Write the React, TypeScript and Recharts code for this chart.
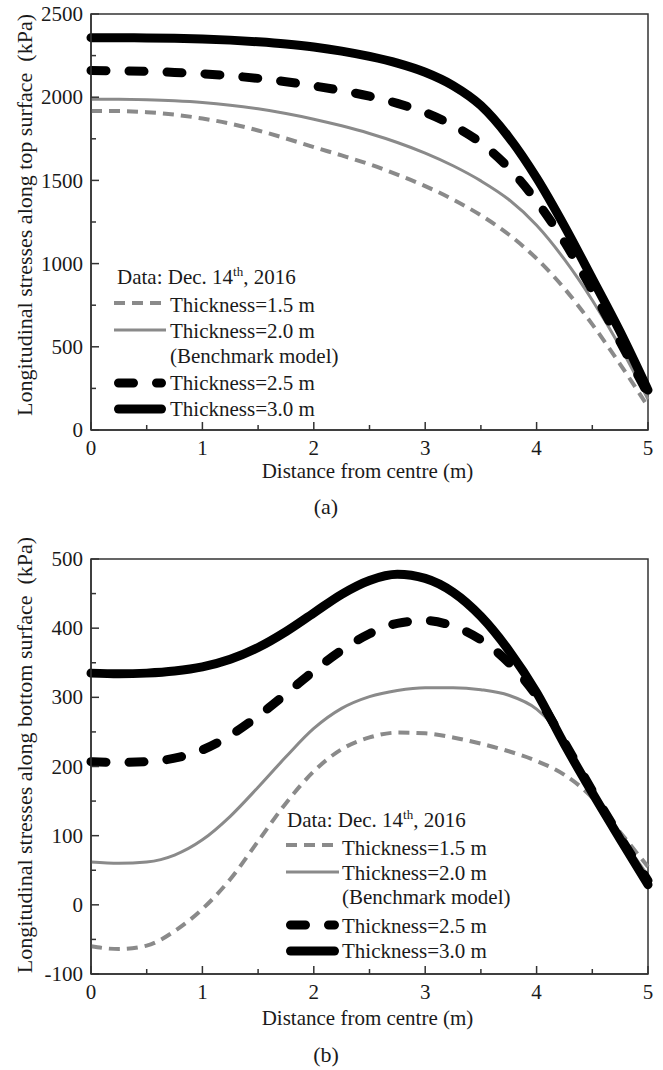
import React from 'react';
import { LineChart, Line, XAxis, YAxis, ReferenceArea, Legend, Label } from 'recharts';

const FONT = '"Liberation Serif", "Times New Roman", Times, serif';
const AXIS = '#333';
const TXT = '#1a1a1a';
const GRAY = '#8a8a8a';

// distance from centre (m)
const distances = [0, 0.25, 0.5, 0.75, 1, 1.25, 1.5, 1.75, 2, 2.25, 2.5, 2.75, 3, 3.25, 3.5, 3.75, 4, 4.25, 4.5, 4.75, 5];

// (a) top surface (kPa)
const top15 = [1917, 1917, 1910, 1895, 1872, 1841, 1800, 1752, 1700, 1650, 1597, 1535, 1466, 1385, 1290, 1175, 1030, 850, 635, 395, 140];
const top20 = [1987, 1987, 1984, 1978, 1968, 1952, 1930, 1902, 1868, 1828, 1782, 1728, 1664, 1588, 1497, 1385, 1230, 1025, 780, 500, 185];
const top25 = [2160, 2158, 2155, 2149, 2141, 2129, 2113, 2093, 2068, 2040, 2006, 1963, 1908, 1830, 1725, 1575, 1375, 1130, 840, 530, 215];
const top30 = [2358, 2357, 2356, 2354, 2350, 2343, 2333, 2320, 2302, 2277, 2245, 2205, 2150, 2070, 1950, 1760, 1515, 1225, 910, 590, 240];

// (b) bottom surface (kPa)
const bot15 = [-60, -64, -59, -38, -6, 37, 92, 147, 193, 225, 242, 249, 248, 242, 233, 222, 208, 188, 155, 105, 55];
const bot20 = [62, 60, 62, 72, 94, 128, 170, 214, 255, 284, 301, 310, 314, 314, 311, 303, 283, 238, 165, 100, 42];
const bot25 = [207, 206, 207, 212, 224, 245, 273, 305, 338, 368, 392, 407, 411, 403, 383, 350, 302, 235, 165, 98, 35];
const bot30 = [335, 334, 335, 338, 344, 355, 372, 395, 422, 449, 469, 478, 472, 452, 417, 368, 307, 232, 162, 95, 29];

const xTicks = [0, 0.5, 1, 1.5, 2, 2.5, 3, 3.5, 4, 4.5, 5];
const yTicksTop = [0, 250, 500, 750, 1000, 1250, 1500, 1750, 2000, 2250, 2500];
const yTicksBot = [-100, -50, 0, 50, 100, 150, 200, 250, 300, 350, 400, 450, 500];

const seriesNames = ['Thickness=1.5 m', 'Thickness=2.0 m', 'Thickness=2.5 m', 'Thickness=3.0 m'];

const styles = [
  { key: 's15', color: GRAY, width: 4, dash: '11 7', cap: 'butt' },
  { key: 's20', color: GRAY, width: 3, dash: undefined, cap: 'butt' },
  { key: 's25', color: '#000', width: 9, dash: '15 23', cap: 'round' },
  { key: 's30', color: '#000', width: 9, dash: undefined, cap: 'round' },
];

const topData = distances.map((d, i) => ({ d, s15: top15[i], s20: top20[i], s25: top25[i], s30: top30[i] }));
const botData = distances.map((d, i) => ({ d, s15: bot15[i], s20: bot20[i], s25: bot25[i], s30: bot30[i] }));

const XTick = (props: any) => {
  const { x, y, payload } = props;
  const v = payload.value;
  const major = Math.abs(v - Math.round(v)) < 1e-6;
  return (
    <g>
      <line x1={x} x2={x} y1={y} y2={y - (major ? 8 : 5)} stroke={AXIS} strokeWidth={1.5} />
      {major && (
        <text x={x} y={y + 25} textAnchor="middle" fontSize={21} fontFamily={FONT} fill={TXT}>
          {v}
        </text>
      )}
    </g>
  );
};

const makeYTick = (step: number) => (props: any) => {
  const { x, y, payload } = props;
  const v = payload.value;
  const major = v % step === 0;
  return (
    <g>
      <line x1={x} x2={x + (major ? 8 : 5)} y1={y} y2={y} stroke={AXIS} strokeWidth={1.5} />
      {major && (
        <text x={x - 8} y={y} dy="0.34em" textAnchor="end" fontSize={21} fontFamily={FONT} fill={TXT}>
          {v}
        </text>
      )}
    </g>
  );
};

const yTitle = (text: string, cy: number) => (props: any) => {
  return (
    <text
      x={32}
      y={cy}
      transform={`rotate(-90, 32, ${cy})`}
      textAnchor="middle"
      fontSize={22}
      fontFamily={FONT}
      fill={TXT}
      style={{ whiteSpace: 'pre' }}
    >
      {text}
    </text>
  );
};

const xTitle = (baseline: number) => (props: any) => {
  const vb = props.viewBox || {};
  const cx = (vb.x || 0) + (vb.width || 0) / 2;
  return (
    <text x={cx - 2} y={baseline} textAnchor="middle" fontSize={21} fontFamily={FONT} fill={TXT}>
      Distance from centre (m)
    </text>
  );
};

type LegendGeo = { lx: number; lw: number; tx: number; titleX: number; titleY: number; lineYs: number[]; textYs: number[]; benchY: number };

const LegendBox = ({ g, w, h }: { g: LegendGeo; w: number; h: number }) => (
  <svg width={w} height={h} style={{ position: 'absolute', left: 0, top: 0, overflow: 'visible' }}>
    <text x={g.titleX} y={g.titleY} fontSize={21} fontFamily={FONT} fill={TXT}>
      Data: Dec. 14<tspan dy={-8} fontSize={13}>th</tspan>
      <tspan dy={8}>, 2016</tspan>
    </text>
    {styles.map((s, i) => {
      const inset = s.cap === 'round' ? s.width / 2 : 0;
      return (
        <g key={s.key}>
          <line
            x1={g.lx + inset}
            x2={g.lx + g.lw - inset}
            y1={g.lineYs[i]}
            y2={g.lineYs[i]}
            stroke={s.color}
            strokeWidth={s.width}
            strokeDasharray={s.dash}
            strokeLinecap={s.cap as any}
          />
          <text x={g.tx} y={g.textYs[i]} fontSize={21} fontFamily={FONT} fill={TXT}>
            {seriesNames[i]}
          </text>
        </g>
      );
    })}
    <text x={g.tx} y={g.benchY} fontSize={21} fontFamily={FONT} fill={TXT}>
      (Benchmark model)
    </text>
  </svg>
);

const topLegend: LegendGeo = {
  lx: 114, lw: 52, tx: 170, titleX: 117, titleY: 284,
  lineYs: [303, 330, 383, 409], textYs: [312, 338, 390, 416], benchY: 363,
};
const botLegend: LegendGeo = {
  lx: 286, lw: 53, tx: 342, titleX: 287, titleY: 327,
  lineYs: [345, 372, 425, 451], textYs: [355, 380, 433, 458], benchY: 404,
};

const renderLines = () =>
  styles.map((s, i) => (
    <Line
      key={s.key}
      dataKey={s.key}
      name={seriesNames[i]}
      type="monotone"
      stroke={s.color}
      strokeWidth={s.width}
      strokeDasharray={s.dash}
      strokeLinecap={s.cap as any}
      dot={false}
      activeDot={false}
      isAnimationActive={false}
    />
  ));

const Caption = ({ text, top }: { text: string; top: number }) => (
  <svg width={663} height={40} style={{ position: 'absolute', left: 0, top }}>
    <text x={326} y={28} textAnchor="middle" fontSize={22} fontFamily={FONT} fill={TXT}>
      {text}
    </text>
  </svg>
);

export default function App() {
  return (
    <div style={{ position: 'absolute', left: 0, top: 0, width: 663, height: 1070, background: '#fff', fontFamily: FONT }}>
      <div style={{ position: 'absolute', left: 0, top: 0 }}>
        <LineChart width={663} height={500} data={topData} margin={{ top: 14, right: 15, bottom: 0, left: 0 }}>
          <XAxis
            dataKey="d"
            type="number"
            domain={[0, 5]}
            ticks={xTicks}
            interval={0}
            height={70}
            tickSize={0}
            tickMargin={0}
            tickLine={false}
            axisLine={{ stroke: AXIS, strokeWidth: 1.5 }}
            tick={XTick}
          >
            <Label content={xTitle(478)} />
          </XAxis>
          <YAxis
            type="number"
            domain={[0, 2500]}
            ticks={yTicksTop}
            interval={0}
            width={91}
            tickSize={0}
            tickMargin={0}
            tickLine={false}
            axisLine={{ stroke: AXIS, strokeWidth: 1.5 }}
            tick={makeYTick(500)}
          >
            <Label content={yTitle('Longitudinal stresses along top surface  (kPa)', 215)} />
          </YAxis>
          <ReferenceArea x1={0} x2={5} y1={0} y2={2500} fill="none" stroke={AXIS} strokeWidth={1.5} ifOverflow="visible" />
          {renderLines()}
          <Legend
            layout="vertical"
            align="center"
            verticalAlign="middle"
            wrapperStyle={{ left: 0, top: 0, width: 663, height: 500, pointerEvents: 'none' }}
            content={() => <LegendBox g={topLegend} w={663} h={500} />}
          />
        </LineChart>
      </div>
      <Caption text="(a)" top={486} />
      <div style={{ position: 'absolute', left: 0, top: 500 }}>
        <LineChart width={663} height={570} data={botData} margin={{ top: 59, right: 15, bottom: 0, left: 0 }}>
          <XAxis
            dataKey="d"
            type="number"
            domain={[0, 5]}
            ticks={xTicks}
            interval={0}
            height={96}
            tickSize={0}
            tickMargin={0}
            tickLine={false}
            axisLine={{ stroke: AXIS, strokeWidth: 1.5 }}
            tick={XTick}
          >
            <Label content={xTitle(525)} />
          </XAxis>
          <YAxis
            type="number"
            domain={[-100, 500]}
            ticks={yTicksBot}
            interval={0}
            width={91}
            tickSize={0}
            tickMargin={0}
            tickLine={false}
            axisLine={{ stroke: AXIS, strokeWidth: 1.5 }}
            tick={makeYTick(100)}
          >
            <Label content={yTitle('Longitudinal stresses along bottom surface  (kPa)', 255)} />
          </YAxis>
          <ReferenceArea x1={0} x2={5} y1={-100} y2={500} fill="none" stroke={AXIS} strokeWidth={1.5} ifOverflow="visible" />
          {renderLines()}
          <Legend
            layout="vertical"
            align="center"
            verticalAlign="middle"
            wrapperStyle={{ left: 0, top: 0, width: 663, height: 570, pointerEvents: 'none' }}
            content={() => <LegendBox g={botLegend} w={663} h={570} />}
          />
        </LineChart>
      </div>
      <Caption text="(b)" top={1034} />
    </div>
  );
}
